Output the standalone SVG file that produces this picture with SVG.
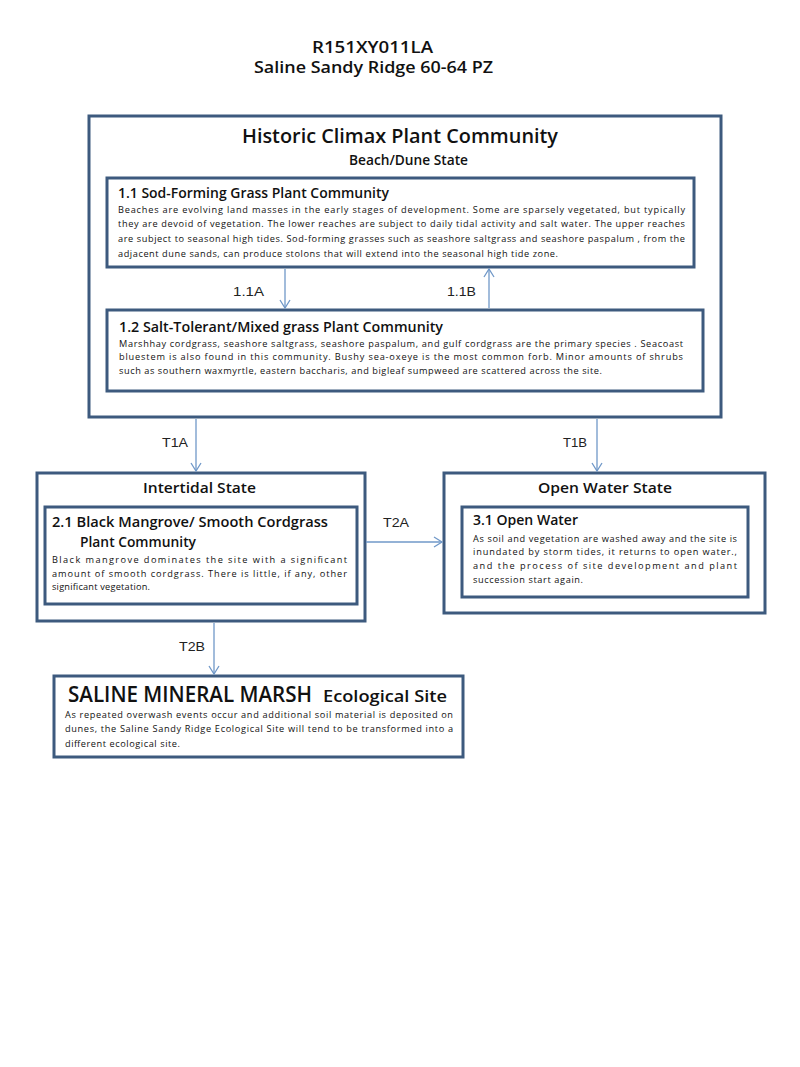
<svg xmlns="http://www.w3.org/2000/svg" width="800" height="1067" viewBox="0 0 800 1067">
<style>
.box{fill:#fff;stroke:#3d5a7e;stroke-width:3}
.in{fill:#fff;stroke:#3d5a7e;stroke-width:3}
.t{font-family:"Open Sans","Liberation Sans",sans-serif;fill:#111}
.h{font-weight:600}
.b{font-size:9.2px}
.lbl{font-family:"Liberation Sans",Arial,sans-serif;font-size:13px;fill:#222}
.con{stroke:#7098c8;stroke-width:1.3;fill:none}
</style>
<defs>
<marker id="ah" markerWidth="12" markerHeight="12" refX="10" refY="6" orient="auto" markerUnits="userSpaceOnUse">
<path d="M2,1 L10,6 L2,11" fill="none" stroke="#7098c8" stroke-width="1.3"/>
</marker>
</defs>
<rect width="800" height="1067" fill="#fff"/>
<g id="title">
<text class="t h" x="372.5" y="53" font-size="16" text-anchor="middle" textLength="121" lengthAdjust="spacingAndGlyphs">R151XY011LA</text>
<text class="t h" x="373.5" y="73" font-size="16" text-anchor="middle" textLength="239" lengthAdjust="spacingAndGlyphs">Saline Sandy Ridge 60-64 PZ</text>
</g>
<g id="historic">
<rect class="box" x="89" y="116" width="632" height="301"/>
<text class="t h" x="242" y="143" font-size="20" textLength="316" lengthAdjust="spacingAndGlyphs">Historic Climax Plant Community</text>
<text class="t h" x="349" y="165" font-size="14" textLength="119" lengthAdjust="spacingAndGlyphs">Beach/Dune State</text>
</g>
<g id="c11">
<rect class="in" x="107" y="178" width="587" height="89"/>
<text class="t h" x="118" y="198" font-size="14" textLength="271" lengthAdjust="spacingAndGlyphs">1.1 Sod-Forming Grass Plant Community</text>
<text class="t b" x="118" y="213" textLength="567" lengthAdjust="spacing">Beaches are evolving land masses in the early stages of development.  Some are sparsely vegetated, but typically</text>
<text class="t b" x="118" y="227" textLength="567" lengthAdjust="spacing">they are devoid of vegetation.  The lower reaches are subject to daily tidal activity and salt water.  The upper reaches</text>
<text class="t b" x="118" y="242" textLength="567" lengthAdjust="spacing">are subject to seasonal high tides.  Sod-forming grasses such as seashore saltgrass and seashore paspalum , from the</text>
<text class="t b" x="118" y="257" textLength="440" lengthAdjust="spacing">adjacent dune sands, can produce stolons that will extend into the seasonal high tide zone.</text>
</g>
<g id="c12">
<rect class="in" x="107" y="310" width="596" height="81"/>
<text class="t h" x="119" y="332" font-size="14" textLength="324" lengthAdjust="spacingAndGlyphs">1.2 Salt-Tolerant/Mixed grass Plant  Community</text>
<text class="t b" x="119" y="347" textLength="564" lengthAdjust="spacing">Marshhay cordgrass, seashore saltgrass, seashore paspalum, and gulf cordgrass are the primary species .  Seacoast</text>
<text class="t b" x="119" y="360" textLength="564" lengthAdjust="spacing">bluestem is also found in this community.  Bushy sea-oxeye is the most common forb.  Minor amounts of shrubs</text>
<text class="t b" x="119" y="374" textLength="483" lengthAdjust="spacing">such as southern waxmyrtle, eastern baccharis, and bigleaf sumpweed are scattered across the site.</text>
</g>
<g id="intertidal">
<rect class="box" x="37" y="473" width="328" height="148"/>
<text class="t h" x="143" y="493" font-size="14" textLength="113" lengthAdjust="spacingAndGlyphs">Intertidal State</text>
<rect class="in" x="45" y="507" width="312" height="97"/>
<text class="t h" x="52" y="527" font-size="14" textLength="276" lengthAdjust="spacingAndGlyphs">2.1 Black Mangrove/ Smooth Cordgrass</text>
<text class="t h" x="80" y="547" font-size="14" textLength="116" lengthAdjust="spacingAndGlyphs">Plant Community</text>
<text class="t b" x="52" y="563" textLength="295" lengthAdjust="spacing">Black mangrove dominates the site with a significant</text>
<text class="t b" x="52" y="577" textLength="295" lengthAdjust="spacing">amount of smooth cordgrass.  There is little, if any, other</text>
<text class="t b" x="52" y="590" textLength="98" lengthAdjust="spacing">significant vegetation.</text>
</g>
<g id="openwater">
<rect class="box" x="444" y="473" width="321" height="140"/>
<text class="t h" x="538" y="493" font-size="14" textLength="134" lengthAdjust="spacingAndGlyphs">Open Water State</text>
<rect class="in" x="462" y="507" width="286" height="90"/>
<text class="t h" x="473" y="525" font-size="14" textLength="105" lengthAdjust="spacingAndGlyphs">3.1 Open Water</text>
<text class="t b" x="473" y="542" textLength="264" lengthAdjust="spacing">As soil and vegetation are washed away and the site is</text>
<text class="t b" x="473" y="555" textLength="264" lengthAdjust="spacing">inundated by storm tides, it returns to open water.,</text>
<text class="t b" x="473" y="569" textLength="264" lengthAdjust="spacing">and the process of site development and plant</text>
<text class="t b" x="473" y="583" textLength="110" lengthAdjust="spacing">succession start again.</text>
</g>
<g id="marsh">
<rect class="box" x="54" y="676" width="409" height="81"/>
<text class="t h" x="68" y="702" font-size="21" textLength="244" lengthAdjust="spacingAndGlyphs">SALINE MINERAL MARSH</text>
<text class="t h" x="323" y="702" font-size="17" textLength="124" lengthAdjust="spacingAndGlyphs">Ecological Site</text>
<text class="t b" x="65" y="718" textLength="388" lengthAdjust="spacing">As repeated overwash events occur and additional soil material is deposited on</text>
<text class="t b" x="65" y="732" textLength="388" lengthAdjust="spacing">dunes, the Saline Sandy Ridge Ecological Site will tend to be transformed into a</text>
<text class="t b" x="65" y="747" textLength="115" lengthAdjust="spacing">different ecological site.</text>
</g>
<g id="connectors">
<line class="con" x1="285" y1="269" x2="285" y2="308" marker-end="url(#ah)"/>
<line class="con" x1="489" y1="308" x2="489" y2="269" marker-end="url(#ah)"/>
<line class="con" x1="196" y1="419" x2="196" y2="471" marker-end="url(#ah)"/>
<line class="con" x1="597" y1="419" x2="597" y2="471" marker-end="url(#ah)"/>
<line class="con" x1="366" y1="542" x2="442" y2="542" marker-end="url(#ah)"/>
<line class="con" x1="214" y1="623" x2="214" y2="674" marker-end="url(#ah)"/>
<text class="lbl" x="233" y="296" textLength="31" lengthAdjust="spacingAndGlyphs">1.1A</text>
<text class="lbl" x="447" y="296" textLength="29" lengthAdjust="spacingAndGlyphs">1.1B</text>
<text class="lbl" x="162" y="447" textLength="26" lengthAdjust="spacingAndGlyphs">T1A</text>
<text class="lbl" x="563" y="447" textLength="24" lengthAdjust="spacingAndGlyphs">T1B</text>
<text class="lbl" x="383" y="527" textLength="26" lengthAdjust="spacingAndGlyphs">T2A</text>
<text class="lbl" x="179" y="651" textLength="26" lengthAdjust="spacingAndGlyphs">T2B</text>
</g>
</svg>
